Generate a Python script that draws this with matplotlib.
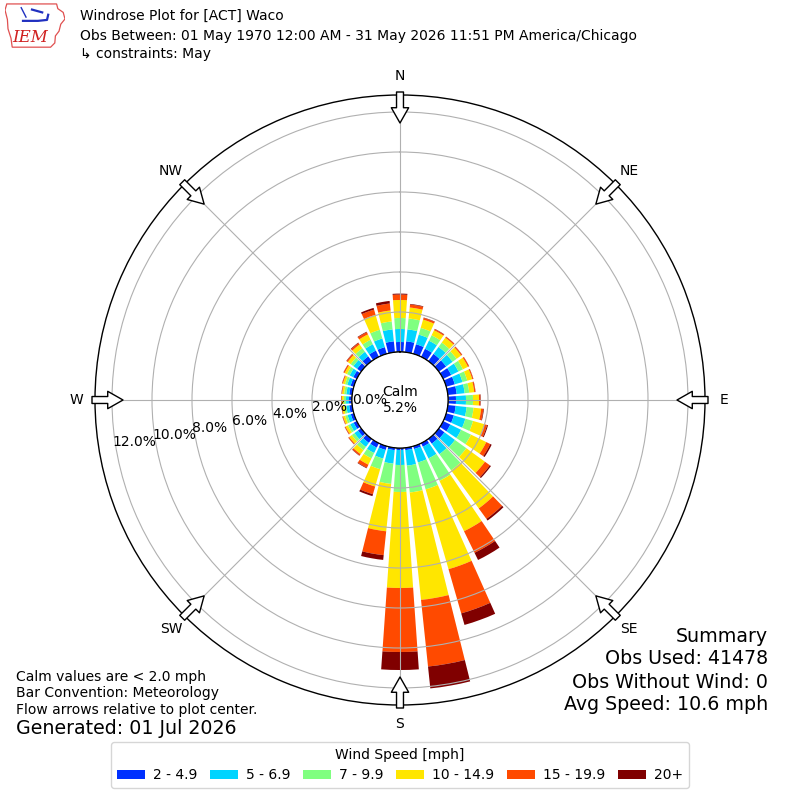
import math

import matplotlib
matplotlib.use("Agg")
import matplotlib.pyplot as plt
import numpy as np
from matplotlib.patches import Patch, Polygon

# direction bins (degrees, meteorological), 10 degree wide
DIRECTIONS = np.arange(0, 360, 10)
SPEED_LABELS = ["2 - 4.9", "5 - 6.9", "7 - 9.9", "10 - 14.9", "15 - 19.9", "20+"]
SPEED_COLORS = ["#0030ff", "#00d4ff", "#80ff80", "#ffe600", "#ff4a00", "#800000"]

# cumulative frequency [%] at the top of each speed bin, per direction
TOP_2 = [0.50, 0.55, 0.50, 0.45, 0.45, 0.45, 0.45, 0.45, 0.45, 0.40, 0.40, 0.40,
         0.40, 0.35, 0.30, 0.20, 0.15, 0.12, 0.10, 0.12, 0.20, 0.25, 0.25, 0.20,
         0.18, 0.16, 0.15, 0.15, 0.15, 0.17, 0.20, 0.25, 0.30, 0.35, 0.35, 0.55]
TOP_5 = [1.15, 1.15, 1.00, 0.90, 0.88, 0.85, 0.85, 0.85, 0.85, 0.90, 0.95, 1.00,
         1.00, 1.00, 0.95, 0.85, 0.85, 0.90, 0.85, 0.80, 0.65, 0.55, 0.50, 0.42,
         0.37, 0.33, 0.30, 0.30, 0.30, 0.34, 0.40, 0.48, 0.58, 0.70, 0.80, 1.15]
TOP_7 = [1.70, 1.70, 1.35, 1.20, 1.15, 1.10, 1.10, 1.10, 1.08, 1.25, 1.30, 1.40,
         1.55, 1.70, 1.95, 2.10, 2.25, 2.25, 2.20, 1.82, 1.20, 0.85, 0.70, 0.58,
         0.50, 0.45, 0.41, 0.41, 0.41, 0.46, 0.55, 0.65, 0.80, 0.95, 1.25, 1.55]
TOP_10 = [2.60, 2.25, 1.78, 1.48, 1.45, 1.38, 1.38, 1.36, 1.33, 1.55, 1.68, 1.98,
          2.40, 2.85, 4.30, 4.90, 6.40, 7.65, 7.00, 4.20, 2.10, 1.20, 0.95, 0.74,
          0.63, 0.56, 0.51, 0.51, 0.51, 0.57, 0.68, 0.83, 1.03, 1.25, 2.03, 2.10]
TOP_15 = [2.87, 2.40, 1.87, 1.54, 1.51, 1.44, 1.44, 1.41, 1.39, 1.62, 1.79, 2.13,
          2.62, 3.15, 4.95, 6.10, 8.70, 11.00, 10.20, 5.40, 2.50, 1.37, 1.03, 0.79,
          0.67, 0.59, 0.54, 0.54, 0.54, 0.61, 0.74, 0.90, 1.12, 1.37, 2.30, 2.45]
TOP_20 = [2.92, 2.43, 1.89, 1.56, 1.52, 1.45, 1.45, 1.42, 1.40, 1.64, 1.82, 2.18,
          2.70, 3.22, 5.05, 6.50, 9.30, 12.10, 11.10, 5.64, 2.60, 1.40, 1.05, 0.80,
          0.68, 0.60, 0.55, 0.55, 0.55, 0.62, 0.75, 0.92, 1.15, 1.40, 2.39, 2.58]

CALM_PCT = 5.2
RINGS = [0, 2, 4, 6, 8, 10, 12]
COMPASS = ["N", "NE", "E", "SE", "S", "SW", "W", "NW"]

TITLE_LINES = [
    "Windrose Plot for [ACT] Waco",
    "Obs Between: 01 May 1970 12:00 AM - 31 May 2026 11:51 PM America/Chicago",
    "\u21b3 constraints: May",
]
NOTES = ["Calm values are < 2.0 mph", "Bar Convention: Meteorology",
         "Flow arrows relative to plot center."]
SUMMARY = ["Summary", "Obs Used: 41478", "Obs Without Wind: 0", "Avg Speed: 10.6 mph"]

RORIGIN = -2.4
RMAX = 12.85


def draw_logo(fig):
    lax = fig.add_axes([5 / 800, 1 - 50 / 800, 60 / 800, 47 / 800])
    lax.set_xlim(0, 1)
    lax.set_ylim(0, 1)
    lax.axis("off")
    outline = [(0.03, 0.98), (0.86, 0.98), (0.88, 0.88), (0.97, 0.80), (1.0, 0.66),
               (0.93, 0.55), (0.90, 0.40), (0.84, 0.30), (0.83, 0.15), (0.76, 0.06),
               (0.12, 0.06), (0.10, 0.25), (0.05, 0.45), (0.04, 0.65), (0.0, 0.85)]
    lax.add_patch(Polygon(outline, closed=True, fill=False, ec="#e05050", lw=0.9))
    lax.plot([0.30, 0.55, 0.70, 0.72], [0.62, 0.62, 0.64, 0.75], color="#2030c0", lw=1.6)
    lax.plot([0.45, 0.62], [0.86, 0.80], color="#2030c0", lw=1.6)
    lax.plot([0.27, 0.35], [0.90, 0.70], color="#2030c0", lw=1.0)
    lax.text(0.42, 0.27, "IEM", color="#d02020", fontsize=12, family="DejaVu Serif",
             style="italic", ha="center", va="center")


def main():
    fig = plt.figure(figsize=(8, 8), dpi=100)
    ax = fig.add_axes([95 / 800, 95 / 800, 610 / 800, 610 / 800], projection="polar")
    ax.set_theta_zero_location("N")
    ax.set_theta_direction(-1)
    ax.set_rorigin(RORIGIN)
    ax.set_ylim(0, RMAX)

    theta = np.radians(DIRECTIONS)
    width = np.radians(8)
    tops = [np.array(t) for t in (TOP_2, TOP_5, TOP_7, TOP_10, TOP_15, TOP_20)]
    bottom = np.zeros(len(DIRECTIONS))
    for top, color in zip(tops, SPEED_COLORS):
        ax.bar(theta, top - bottom, width=width, bottom=bottom, color=color,
               linewidth=0)
        bottom = top

    # calm circle
    ring = np.linspace(0, 2 * np.pi, 361)
    ax.plot(ring, np.zeros_like(ring), color="black", lw=1.0, zorder=4)
    ax.text(0.5, 0.5, f"Calm\n{CALM_PCT:.1f}%", transform=ax.transAxes,
            ha="center", va="center", fontsize=10, zorder=5)

    ax.set_yticks(RINGS)
    ax.set_yticklabels([])
    ax.set_xticks(np.radians(np.arange(0, 360, 45)))
    ax.set_xticklabels(COMPASS, fontsize=10)
    ax.tick_params(axis="x", pad=3)
    ax.grid(True, color="#b0b0b0", lw=0.8)
    ax.spines["polar"].set_linewidth(1.0)

    # radial labels along a slanted line to the lower left
    for v in RINGS:
        dr = v - RORIGIN
        down = 0.175 * v
        ang = math.atan2(down, dr)
        r = math.hypot(dr, down) + RORIGIN
        ax.text(math.radians(270) - ang, r, f"{v:.1f}%", ha="left", va="center",
                fontsize=10, zorder=5)

    # flow arrows
    for deg in range(0, 360, 45):
        th = math.radians(deg)
        ax.annotate("", xy=(th, 11.45), xytext=(th, 13.0), annotation_clip=False,
                    arrowprops=dict(arrowstyle="simple,head_length=1.1,head_width=1.25,tail_width=0.5",
                                    fc="white", ec="black", lw=1.0, shrinkA=0, shrinkB=0,
                                    mutation_scale=10))

    draw_logo(fig)
    for text, y in zip(TITLE_LINES, [16, 36, 54]):
        fig.text(80 / 800, 1 - y / 800, text, fontsize=10, va="center", ha="left")

    for text, y in zip(NOTES, [677, 693, 710]):
        fig.text(16 / 800, 1 - y / 800, text, fontsize=10, va="center", ha="left")
    fig.text(16 / 800, 1 - 729 / 800, "Generated: 01 Jul 2026", fontsize=13.7,
             va="center", ha="left")
    for text, y in zip(SUMMARY, [636, 659, 682, 705]):
        fig.text(768 / 800, 1 - y / 800, text, fontsize=13.7, va="center", ha="right")

    handles = [Patch(facecolor=c, label=l) for c, l in zip(SPEED_COLORS, SPEED_LABELS)]
    leg = fig.legend(handles=handles, loc="center", bbox_to_anchor=(0.5, 1 - 765 / 800),
                     ncol=6, title="Wind Speed [mph]", fontsize=10, title_fontsize=10,
                     handlelength=2.0, handleheight=0.65, handletextpad=0.6,
                     columnspacing=0.9, frameon=True, fancybox=True)
    leg.get_frame().set_edgecolor("#cccccc")

    fig.savefig("out.png", dpi=100)
    plt.close(fig)


if __name__ == "__main__":
    main()
